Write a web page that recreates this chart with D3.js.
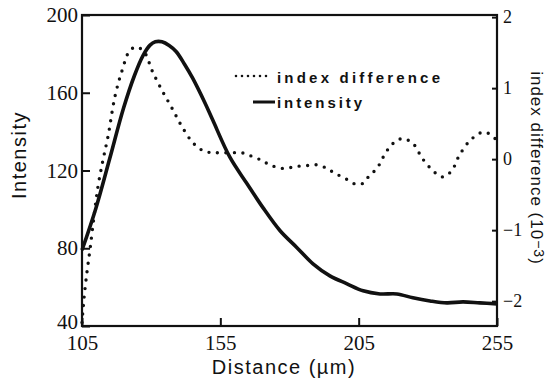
<!DOCTYPE html>
<html>
<head>
<meta charset="utf-8">
<script src="https://cdn.jsdelivr.net/npm/d3@7"></script>
<style>
body { margin: 0; background: #fff; }
</style>
</head>
<body>
<svg id="chart"></svg>
<script>
// axis ticks
var distanceTicks = [105, 155, 205, 255]
var intensityTicks = [40, 80, 120, 160, 200]
var indexTicks = [2, 1, 0, -1, -2]

// intensity curve (solid)
var intensityDist = [105, 110, 115, 120, 124, 127, 129.6, 131.5, 133.9, 136.5, 139, 142, 145, 149.5, 152.3, 158.5, 164.6, 170.4, 176.6, 182.7, 188.5, 194.6, 200.8, 206.6, 212.7, 218.8, 224.6, 230.8, 236.9, 242.7, 248.8, 255]
var intensityVals = [79, 100.5, 126, 152, 169, 179, 184.5, 186.2, 186.2, 184.3, 181.2, 174.8, 167.5, 154.6, 145.8, 126.7, 113.3, 100.9, 89, 80.3, 72, 65.8, 61.7, 58.1, 56.5, 56.5, 54.5, 52.9, 51.9, 52.4, 51.9, 51.4]

// index difference curve (dotted), units of 10^-3
var indexDist = [105, 105.7, 106.8, 107.9, 109.3, 110.8, 112.6, 114.4, 116.9, 119.5, 122.3, 124.9, 127.8, 130.3, 133.9, 137.5, 141.1, 145.1, 148.7, 152, 154.9, 159.2, 162.8, 166.4, 170.1, 172.9, 177.3, 180.2, 183.1, 186.7, 189.9, 193.5, 196.4, 200.1, 203.7, 206.6, 208.7, 211.6, 214.9, 217.4, 220.7, 224.6, 228.2, 232.9, 235.5, 238.7, 241.2, 245.2, 249.9, 252.5, 255]
var indexVals = [-2.3, -1.97, -1.59, -1.27, -0.82, -0.38, -0.01, 0.32, 0.88, 1.25, 1.53, 1.58, 1.49, 1.25, 0.97, 0.72, 0.46, 0.23, 0.12, 0.09, 0.09, 0.09, 0.09, 0.04, -0.02, -0.08, -0.13, -0.12, -0.1, -0.09, -0.08, -0.13, -0.2, -0.27, -0.35, -0.34, -0.24, -0.13, 0.1, 0.22, 0.29, 0.22, 0, -0.2, -0.25, -0.16, 0.04, 0.26, 0.38, 0.35, 0.26]

var width = 553, height = 378
var margin = {top: 15, right: 56, bottom: 52, left: 82}
var ink = '#111'

var svg = d3.select('#chart').attr('width', width).attr('height', height)

var x = d3.scaleLinear().domain([105, 255]).range([margin.left, width - margin.right])
var yInt = d3.scaleLinear().domain([40, 200]).range([height - margin.bottom, margin.top])
var yIdx = d3.scaleLinear().domain([-2.35, 2.03]).range([height - margin.bottom, margin.top])

var serif = '"Liberation Serif", "DejaVu Serif", serif'
var sans = '"Liberation Sans", Arial, sans-serif'

// axes, ticks pointing inward
var bottom = svg.append('g')
    .attr('transform', 'translate(0,' + (height - margin.bottom) + ')')
    .call(d3.axisBottom(x).tickValues(distanceTicks).tickSize(-8).tickPadding(9))

var left = svg.append('g')
    .attr('transform', 'translate(' + margin.left + ',0)')
    .call(d3.axisLeft(yInt).tickValues(intensityTicks).tickSize(-8).tickPadding(4))

var right = svg.append('g')
    .attr('transform', 'translate(' + (width - margin.right) + ',0)')
    .call(d3.axisRight(yIdx).tickValues(indexTicks).tickFormat(d3.format('d')).tickSize(-5).tickPadding(6))

;[bottom, left, right].forEach(function(g) {
    g.attr('font-family', null)
    g.select('.domain').remove()
    g.selectAll('line').attr('stroke', ink).attr('stroke-width', 2)
    g.selectAll('text').attr('fill', ink).style('font-family', serif).style('font-size', '21px')
})
right.selectAll('text').style('font-size', '18px')
// nudge the bottom-left "40" up a little so it clears "105"
left.selectAll('text').filter(function(d) { return d === 40 }).attr('dy', '0.1em')

// frame
svg.append('rect')
    .attr('x', margin.left)
    .attr('y', margin.top)
    .attr('width', width - margin.left - margin.right)
    .attr('height', height - margin.top - margin.bottom)
    .attr('fill', 'none')
    .attr('stroke', ink)
    .attr('stroke-width', 2.2)

// curves
var intensityLine = d3.line()
    .x(function(d, i) { return x(intensityDist[i]) })
    .y(function(d) { return yInt(d) })
    .curve(d3.curveCatmullRom)

var indexLine = d3.line()
    .x(function(d, i) { return x(indexDist[i]) })
    .y(function(d) { return yIdx(d) })
    .curve(d3.curveCatmullRom)

svg.append('path')
    .attr('d', indexLine(indexVals))
    .attr('fill', 'none')
    .attr('stroke', ink)
    .attr('stroke-width', 3.4)
    .attr('stroke-linecap', 'round')
    .attr('stroke-dasharray', '0,8.5')

svg.append('path')
    .attr('d', intensityLine(intensityVals))
    .attr('fill', 'none')
    .attr('stroke', ink)
    .attr('stroke-width', 3.6)
    .attr('stroke-linejoin', 'round')

// legend
svg.append('line')
    .attr('x1', 236).attr('x2', 272).attr('y1', 76).attr('y2', 76)
    .attr('stroke', ink)
    .attr('stroke-width', 2.6)
    .attr('stroke-linecap', 'round')
    .attr('stroke-dasharray', '0,6')

svg.append('text')
    .text('index difference')
    .attr('x', 277)
    .attr('y', 83)
    .attr('font-family', sans)
    .attr('font-weight', 'bold')
    .attr('font-size', '15px')
    .attr('textLength', 163)
    .attr('lengthAdjust', 'spacing')
    .attr('fill', ink)

svg.append('line')
    .attr('x1', 253).attr('x2', 275).attr('y1', 102).attr('y2', 102)
    .attr('stroke', ink)
    .attr('stroke-width', 3)

svg.append('text')
    .text('intensity')
    .attr('x', 277)
    .attr('y', 108)
    .attr('font-family', sans)
    .attr('font-weight', 'bold')
    .attr('font-size', '15px')
    .attr('textLength', 85)
    .attr('lengthAdjust', 'spacing')
    .attr('fill', ink)

// axis titles
svg.append('text')
    .text('Distance (µm)')
    .attr('x', 284)
    .attr('y', 374)
    .attr('text-anchor', 'middle')
    .attr('font-family', sans)
    .attr('font-size', '20px')
    .attr('letter-spacing', '1.5px')
    .attr('fill', ink)

svg.append('text')
    .text('Intensity')
    .attr('transform', 'translate(26,155) rotate(-90)')
    .attr('text-anchor', 'middle')
    .attr('font-family', sans)
    .attr('font-size', '20px')
    .attr('letter-spacing', '1.5px')
    .attr('fill', ink)

var idxTitle = svg.append('text')
    .attr('transform', 'translate(531,168) rotate(90)')
    .attr('text-anchor', 'middle')
    .attr('font-family', sans)
    .attr('font-size', '17px')
    .attr('letter-spacing', '1px')
    .attr('fill', ink)
idxTitle.append('tspan').text('index difference (10')
idxTitle.append('tspan').text('−3').attr('baseline-shift', '3px').attr('font-size', '14px')
idxTitle.append('tspan').text(')')
</script>
</body>
</html>
